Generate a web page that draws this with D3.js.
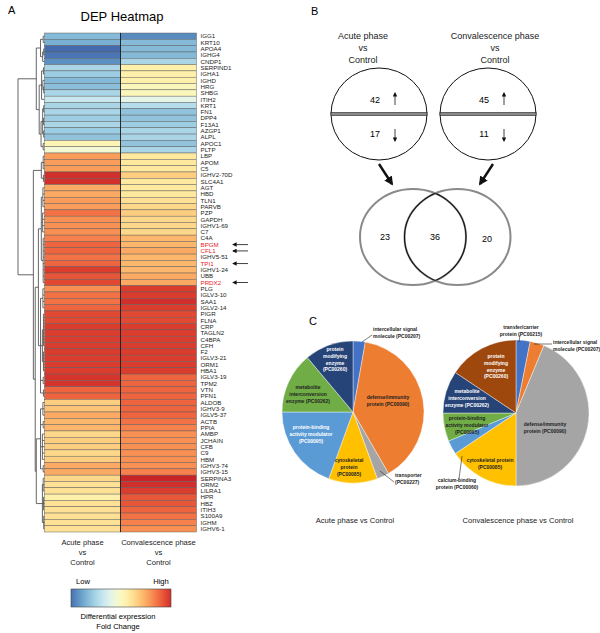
<!DOCTYPE html>
<html>
<head>
<meta charset="utf-8">
<script src="https://cdn.jsdelivr.net/npm/d3@7"></script>
<style>
  body { margin: 0; background: #fff; }
  text { font-family: "Liberation Sans", Arial, sans-serif; }
</style>
</head>
<body>
<div id="fig"></div>
<script>
////////////////////////////////////////////////////////////////////////
// Data

// heatmap rows, top to bottom
let genes = ["IGG1","KRT10","APOA4","IGHG4","CNDP1","SERPIND1","IGHA1","IGHD","HRG","SHBG",
  "ITIH2","KRT1","FN1","DPP4","F13A1","AZGP1","ALPL","APOC1","PLTP","LBP",
  "APOM","C5","IGHV2-70D","SLC4A1","AGT","HBD","TLN1","PARVB","PZP","GAPDH",
  "IGHV1-69","C7","C4A","BPGM","CFL1","IGHV5-51","TPI1","IGHV1-24","UBB","PRDX2",
  "PLG","IGLV3-10","SAA1","IGLV2-14","PIGR","FLNA","CRP","TAGLN2","C4BPA","CFH",
  "F2","IGLV3-21","ORM1","HBA1","IGLV3-19","TPM2","VTN","PFN1","ALDOB","IGHV3-9",
  "IGLV5-37","ACTB","PPIA","AMBP","JCHAIN","CFB","C9","HBM","IGHV3-74","IGHV3-15",
  "SERPINA3","ORM2","LILRA1","HPR","HBZ","ITIH3","S100A9","IGHM","IGHV6-1"];

// relative fold change (-1 low .. 1 high)
let acuteFC = [-0.6,-0.65,-0.92,-0.88,-0.78,-0.45,-0.5,-0.6,-0.58,-0.45,
  -0.32,-0.45,-0.45,-0.5,-0.45,-0.5,-0.55,0.05,-0.08,0.5,
  0.5,0.5,0.9,0.9,0.45,0.45,0.5,0.5,0.65,0.55,
  0.55,0.55,0.6,0.7,0.7,0.65,0.7,0.85,0.75,0.8,
  0.55,0.65,0.65,0.7,0.8,0.8,0.85,0.85,0.85,0.85,
  0.85,0.85,0.85,0.85,0.88,0.88,0.7,0.7,0.3,0.35,
  0.45,0.4,0.4,0.25,0.3,0.3,0.25,0.3,0.45,0.45,
  0.25,0.2,0.2,0.1,0.2,0.2,0.2,0.2,0.2];
let convFC = [-0.8,-0.6,-0.6,-0.6,-0.45,0.1,0.1,0.1,0.02,0.02,
  -0.18,-0.4,-0.55,-0.55,-0.5,-0.45,-0.45,-0.55,-0.45,0.15,
  0.15,0.15,0.3,0.15,0.15,0.15,0.2,0.25,0.3,0.25,
  0.25,0.25,0.4,0.4,0.45,0.4,0.4,0.4,0.45,0.45,
  0.85,0.85,0.9,0.85,0.8,0.8,0.85,0.85,0.85,0.85,
  0.85,0.85,0.85,0.85,0.7,0.7,0.7,0.7,0.7,0.7,
  0.7,0.65,0.6,0.55,0.55,0.55,0.55,0.55,0.55,0.6,
  0.95,0.9,0.85,0.75,0.75,0.7,0.65,0.6,0.55];

let columns = ["Acute phase", "Convalescence phase"];
let marked = ["BPGM", "CFL1", "TPI1", "PRDX2"];

// dendrogram: [height, child, child, ...], leaves are row indices
let dendro = [1.0,
  [0.31,
    [0.15, [0.05, 0, 1], [0.07, [0.03, 2, 3], 4]],
    [0.2,
      [0.11, [0.04, 5, 6], [0.06, 7, [0.03, 8, 9]], 10],
      [0.13, [0.07, [0.03, 11, 12], [0.04, 13, 14], [0.03, 15, 16]], [0.05, 17, 18]]]],
  [0.42,
    [0.12, [0.05, 19, 20, 21], [0.04, 22, 23]],
    [0.35,
      [0.23,
        [0.12, [0.06, 24, 25, 26, 27], [0.07, 28, 29, 30, 31], [0.05, 32, 33, 34, 35, 36, 37, 38, 39]],
        [0.15, [0.06, 40, 41, 42, 43], [0.08, [0.04, 44, 45, 46, 47, 48, 49], [0.04, 50, 51, 52, 53]],
          [0.05, 54, 55], [0.04, 56, 57]]],
      [0.31,
        [0.15, [0.06, 58, 59, 60], [0.05, 61, 62], [0.08, 63, 64, 65, 66, 67], [0.05, 68, 69]],
        [0.08, [0.05, 70, 71, 72], [0.04, 73, 74, 75], [0.03, 76, 77, 78]]]]]];

// panel B counts
let upCounts = [42, 45];
let downCounts = [17, 11];
let onlyCounts = [23, 20];
let sharedCount = 36;

// panel C pies (clockwise from 12 o'clock)
let acuteClasses = [
  ["intercellular signal", "molecule (PC00207)"],
  ["defense/immunity", "protein (PC00090)"],
  ["transporter", "(PC00227)"],
  ["cytoskeletal", "protein", "(PC00085)"],
  ["protein-binding", "activity modulator", "(PC00095)"],
  ["metabolite", "interconversion", "enzyme (PC00262)"],
  ["protein", "modifying", "enzyme", "(PC00260)"]];
let acuteCounts = [1, 14, 1, 4, 7, 5, 4];
let convClasses = [
  ["transfer/carrier", "protein (PC00215)"],
  ["intercellular signal", "molecule (PC00207)"],
  ["defense/immunity", "protein (PC00090)"],
  ["cytoskeletal protein", "(PC00085)"],
  ["calcium-binding", "protein (PC00060)"],
  ["protein-binding", "activity modulator", "(PC00095)"],
  ["metabolite", "interconversion", "enzyme (PC00262)"],
  ["protein", "modifying", "enzyme", "(PC00260)"]];
let convCounts = [1, 1, 14, 5, 1, 2, 3, 5];

////////////////////////////////////////////////////////////////////////
// svg

let width = 600, height = 633;
let svg = d3.select("#fig").append("svg")
  .attr("width", width).attr("height", height);
svg.append("rect").attr("width", width).attr("height", height).attr("fill", "#fff");

let defs = svg.append("defs");
function arrowMarker(id, size) {
  defs.append("marker").attr("id", id)
    .attr("viewBox", "0 0 10 10").attr("refX", 8).attr("refY", 5)
    .attr("markerWidth", size).attr("markerHeight", size)
    .attr("markerUnits", "userSpaceOnUse")
    .attr("orient", "auto")
    .append("path").attr("d", "M0,0 L10,5 L0,10 Z").attr("fill", "#111");
}
arrowMarker("headS", 4.5);
arrowMarker("headB", 9);

////////////////////////////////////////////////////////////////////////
// Panel A: heatmap

let hmTop = 33, hmBottom = 532, hmLeft = 44.5, hmRight = 196.5;

let yScale = d3.scaleBand().domain(genes).range([hmTop, hmBottom]);
let xScale = d3.scaleBand().domain(columns).range([hmLeft, hmRight]);
let color = function(v) { return d3.interpolateRdYlBu(0.5 - 0.45 * v); };

svg.append("text").attr("x", 8).attr("y", 14).attr("font-size", 11).text("A");
svg.append("text").attr("x", 122).attr("y", 21).attr("font-size", 13)
  .attr("text-anchor", "middle").text("DEP Heatmap");

let cells = [];
genes.forEach(function(g, i) {
  cells.push({gene: g, col: columns[0], v: acuteFC[i]});
  cells.push({gene: g, col: columns[1], v: convFC[i]});
});

svg.append("g").selectAll(".cell")
  .data(cells).enter()
  .append("rect")
  .attr("class", "cell")
  .attr("x", function(d) { return xScale(d.col); })
  .attr("y", function(d) { return yScale(d.gene); })
  .attr("width", xScale.bandwidth())
  .attr("height", yScale.bandwidth())
  .attr("fill", function(d) { return color(d.v); })
  .attr("stroke", "#5a5a5a")
  .attr("stroke-width", 0.45);

svg.append("line")
  .attr("x1", xScale(columns[1])).attr("x2", xScale(columns[1]))
  .attr("y1", hmTop).attr("y2", hmBottom)
  .attr("stroke", "#111").attr("stroke-width", 0.8);

svg.append("g").selectAll(".gene")
  .data(genes).enter()
  .append("text")
  .attr("class", "gene")
  .attr("x", hmRight + 4)
  .attr("y", function(d) { return yScale(d) + yScale.bandwidth() / 2 + 2.2; })
  .attr("font-size", 6.2)
  .attr("fill", function(d) { return marked.indexOf(d) >= 0 ? "#e8202a" : "#222"; })
  .text(function(d) { return d; });

svg.append("g").selectAll(".mark")
  .data(marked).enter()
  .append("line")
  .attr("x1", 248).attr("x2", 233)
  .attr("y1", function(d) { return yScale(d) + yScale.bandwidth() / 2; })
  .attr("y2", function(d) { return yScale(d) + yScale.bandwidth() / 2; })
  .attr("stroke", "#111").attr("stroke-width", 0.8)
  .attr("marker-end", "url(#headS)");

// dendrogram
let hScale = d3.scaleLinear().domain([0, 1]).range([hmLeft, 18]);
let segs = [];
function layoutNode(node) {
  if (typeof node === "number") {
    return {x: hScale(0), y: yScale(genes[node]) + yScale.bandwidth() / 2};
  }
  let x = hScale(node[0]);
  let kids = node.slice(1).map(layoutNode);
  kids.forEach(function(k) { segs.push([x, k.y, k.x, k.y]); });
  segs.push([x, kids[0].y, x, kids[kids.length - 1].y]);
  return {x: x, y: (kids[0].y + kids[kids.length - 1].y) / 2};
}
layoutNode(dendro);
svg.append("g").selectAll(".dendro")
  .data(segs).enter()
  .append("line")
  .attr("x1", function(d) { return d[0]; }).attr("y1", function(d) { return d[1]; })
  .attr("x2", function(d) { return d[2]; }).attr("y2", function(d) { return d[3]; })
  .attr("stroke", "#555").attr("stroke-width", 0.9);

// column labels
columns.forEach(function(c) {
  let cx = xScale(c) + xScale.bandwidth() / 2;
  [c, "vs", "Control"].forEach(function(t, j) {
    svg.append("text").attr("x", cx).attr("y", 545 + j * 10)
      .attr("font-size", 7.6).attr("text-anchor", "middle").attr("fill", "#222").text(t);
  });
});

// colour legend
let legX = d3.scaleLinear().domain([-0.9, 0.9]).range([71, 171]);
let grad = defs.append("linearGradient").attr("id", "legGrad");
d3.range(-0.9, 0.901, 0.1).forEach(function(v) {
  grad.append("stop")
    .attr("offset", ((legX(v) - 71) / 100 * 100) + "%")
    .attr("stop-color", color(v));
});
svg.append("rect").attr("x", 71).attr("y", 589).attr("width", 100).attr("height", 18)
  .attr("fill", "url(#legGrad)").attr("stroke", "#444").attr("stroke-width", 0.6);
svg.append("text").attr("x", 83).attr("y", 584).attr("font-size", 7.6)
  .attr("text-anchor", "middle").text("Low");
svg.append("text").attr("x", 161).attr("y", 584).attr("font-size", 7.6)
  .attr("text-anchor", "middle").text("High");
svg.append("text").attr("x", 118).attr("y", 619).attr("font-size", 7.6)
  .attr("text-anchor", "middle").text("Differential expression");
svg.append("text").attr("x", 118).attr("y", 629).attr("font-size", 7.6)
  .attr("text-anchor", "middle").text("Fold Change");

////////////////////////////////////////////////////////////////////////
// Panel B

svg.append("text").attr("x", 311).attr("y", 15).attr("font-size", 11).text("B");

let ovalX = [379, 488];
let ovalY = 114, ovalRx = 48, ovalRy = 46;

columns.forEach(function(c, i) {
  let cx = ovalX[i];
  let headX = i === 0 ? 363 : 495;
  [c, "vs", "Control"].forEach(function(t, j) {
    svg.append("text").attr("x", headX).attr("y", 39 + j * 12)
      .attr("font-size", 9).attr("text-anchor", "middle").attr("fill", "#222").text(t);
  });
  svg.append("ellipse").attr("cx", cx).attr("cy", ovalY)
    .attr("rx", ovalRx).attr("ry", ovalRy)
    .attr("fill", "none").attr("stroke", "#111").attr("stroke-width", 1);
  svg.append("rect").attr("x", cx - ovalRx).attr("y", ovalY - 1.5)
    .attr("width", ovalRx * 2).attr("height", 3)
    .attr("fill", "#8a8a8a").attr("stroke", "#222").attr("stroke-width", 0.6);
  svg.append("text").attr("x", cx - 4).attr("y", 103).attr("font-size", 9)
    .attr("text-anchor", "middle").text(upCounts[i]);
  svg.append("text").attr("x", cx - 4).attr("y", 137).attr("font-size", 9)
    .attr("text-anchor", "middle").text(downCounts[i]);
  svg.append("line").attr("x1", cx + 16).attr("x2", cx + 16).attr("y1", 105).attr("y2", 93)
    .attr("stroke", "#111").attr("stroke-width", 0.8).attr("marker-end", "url(#headS)");
  svg.append("line").attr("x1", cx + 16).attr("x2", cx + 16).attr("y1", 129).attr("y2", 141)
    .attr("stroke", "#111").attr("stroke-width", 0.8).attr("marker-end", "url(#headS)");
});

svg.append("line").attr("x1", 379).attr("y1", 164).attr("x2", 392).attr("y2", 184)
  .attr("stroke", "#111").attr("stroke-width", 2.4).attr("marker-end", "url(#headB)");
svg.append("line").attr("x1", 493).attr("y1", 164).attr("x2", 480).attr("y2", 184)
  .attr("stroke", "#111").attr("stroke-width", 2.4).attr("marker-end", "url(#headB)");

// Venn
let vennX = [413, 457.5], vennY = 237, vennRx = 53, vennRy = 48;
vennX.forEach(function(cx, i) {
  defs.append("clipPath").attr("id", "vclip" + i)
    .append("ellipse").attr("cx", cx).attr("cy", vennY).attr("rx", vennRx).attr("ry", vennRy);
});
vennX.forEach(function(cx) {
  svg.append("ellipse").attr("cx", cx).attr("cy", vennY).attr("rx", vennRx).attr("ry", vennRy)
    .attr("fill", "none").attr("stroke", "#8a8a8a").attr("stroke-width", 2);
});
vennX.forEach(function(cx, i) {
  svg.append("ellipse").attr("cx", cx).attr("cy", vennY).attr("rx", vennRx).attr("ry", vennRy)
    .attr("clip-path", "url(#vclip" + (1 - i) + ")")
    .attr("fill", "none").attr("stroke", "#111").attr("stroke-width", 1.1);
});
svg.append("text").attr("x", 385).attr("y", 240).attr("font-size", 9)
  .attr("text-anchor", "middle").text(onlyCounts[0]);
svg.append("text").attr("x", 435).attr("y", 240).attr("font-size", 9)
  .attr("text-anchor", "middle").text(sharedCount);
svg.append("text").attr("x", 487).attr("y", 242).attr("font-size", 9)
  .attr("text-anchor", "middle").text(onlyCounts[1]);

////////////////////////////////////////////////////////////////////////
// Panel C: pies

svg.append("text").attr("x", 309).attr("y", 325).attr("font-size", 11).text("C");

let pie = d3.pie().sort(null).value(function(d) { return d; });

// label layout, per slice: label centre offset from the pie centre, text colour,
// and a leader line for the labels placed outside the pie
let acuteLayout = [
  {dx: 20, dy: -79, anchor: "start", fill: "#222", lead: [[9, -70], [19, -77]]},
  {dx: 35, dy: -11, fill: "#222"},
  {dx: 42, dy: 67, anchor: "start", fill: "#222", lead: [[27, 59], [41, 70]]},
  {dx: -4, dy: 55.5, fill: "#222"},
  {dx: -42, dy: 22, fill: "#fff"},
  {dx: -45, dy: -18, fill: "#222"},
  {dx: -18, dy: -52.5, fill: "#fff"}];
let convLayout = [
  {dx: 5, dy: -82.5, fill: "#222", lead: [[4, -78], [3, -71]]},
  {dx: 37, dy: -67.5, anchor: "start", fill: "#222", lead: [[18, -69], [36, -69]]},
  {dx: 29, dy: 14.5, fill: "#222"},
  {dx: -26, dy: 51, fill: "#222"},
  {dx: -59, dy: 71, fill: "#222", lead: [[-57, 66], [-54, 43]]},
  {dx: -49, dy: 12.5, fill: "#222"},
  {dx: -49, dy: -15, fill: "#fff"},
  {dx: -20, dy: -46.5, fill: "#fff"}];

let acuteColors = ["#4472c4", "#ed7d31", "#a5a5a5", "#ffc000", "#5b9bd5", "#70ad47", "#264478"];
let convColors = ["#4472c4", "#ed7d31", "#a5a5a5", "#ffc000", "#5b9bd5", "#70ad47", "#264478", "#9e480e"];

function drawPie(cx, cy, r, counts, classes, colors, layout, title) {
  let g = svg.append("g").attr("transform", "translate(" + cx + "," + cy + ")");
  let arc = d3.arc().innerRadius(0).outerRadius(r);
  g.selectAll(".slice")
    .data(pie(counts)).enter()
    .append("path")
    .attr("class", "slice")
    .attr("d", arc)
    .attr("fill", function(d, i) { return colors[i]; })
    .attr("stroke", "#fff").attr("stroke-width", 0.4);

  let lineGap = 6.8;
  classes.forEach(function(lines, i) {
    let L = layout[i];
    if (L.lead) {
      g.append("line")
        .attr("x1", L.lead[0][0]).attr("y1", L.lead[0][1])
        .attr("x2", L.lead[1][0]).attr("y2", L.lead[1][1])
        .attr("stroke", "#222").attr("stroke-width", 0.6);
    }
    let y0 = L.dy - (lines.length - 1) * lineGap / 2 + 1.7;
    lines.forEach(function(t, j) {
      g.append("text")
        .attr("x", L.dx).attr("y", y0 + j * lineGap)
        .attr("font-size", 5).attr("font-weight", "bold")
        .attr("text-anchor", L.anchor || "middle")
        .attr("fill", L.fill)
        .text(t);
    });
  });

  svg.append("text").attr("x", cx + 2).attr("y", 523).attr("font-size", 7.6)
    .attr("text-anchor", "middle").attr("fill", "#222").text(title);
}

drawPie(353, 412, 71, acuteCounts, acuteClasses, acuteColors, acuteLayout, "Acute phase vs Control");
drawPie(516, 413, 73, convCounts, convClasses, convColors, convLayout, "Convalescence  phase vs Control");
</script>
</body>
</html>
